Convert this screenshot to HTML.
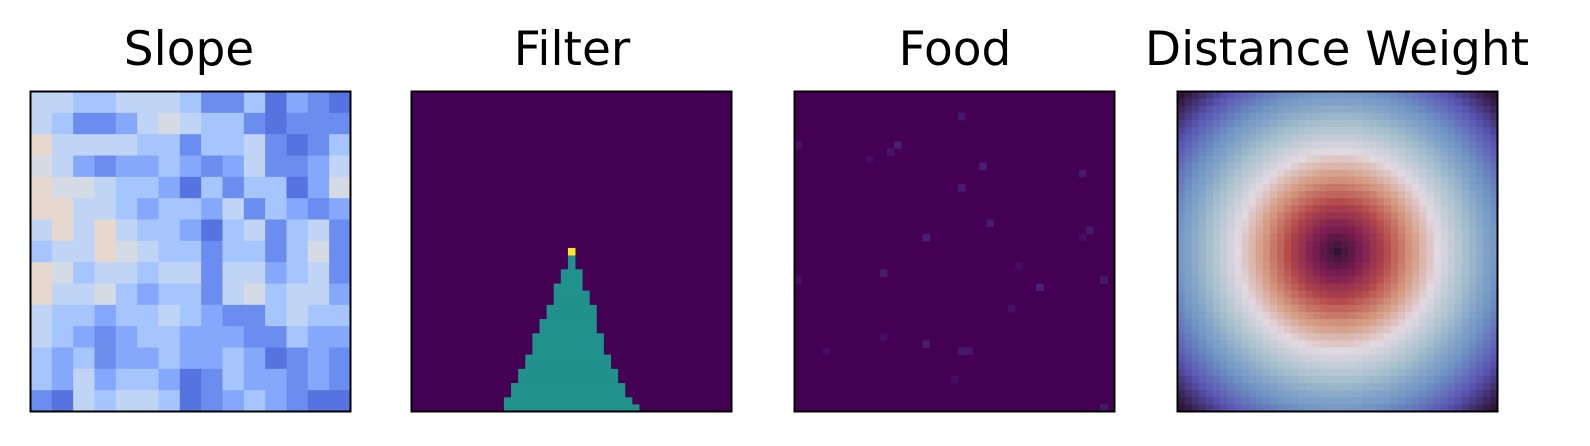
<!DOCTYPE html>
<html><head><meta charset="utf-8">
<style>
html,body{margin:0;padding:0;background:#fff;}
#wrap{position:relative;width:1590px;height:446px;overflow:hidden;}
.title{position:absolute;top:22px;font-family:"DejaVu Sans","Liberation Sans",sans-serif;font-size:47px;color:#000;white-space:nowrap;transform:translateX(-50%);line-height:56px;}
svg{position:absolute;left:0;top:0;}
</style></head>
<body>
<div id="wrap">
<div class="title" style="left:189px">Slope</div>
<div class="title" style="left:572px">Filter</div>
<div class="title" style="left:955px">Food</div>
<div class="title" style="left:1337px">Distance Weight</div>
<svg id="svg" width="1590" height="446"></svg>
</div>
<script>
// ---- data ----
const gridN = 45;
// Slope: coarse 15x15 levels (0 dark blue .. 9 peach)
const slopeLevels = [
[6,6,5,5,6,6,6,5,3,3,5,2,4,3,2],
[6,5,3,3,4,6,7,6,5,5,3,2,3,3,3],
[8,6,6,6,6,5,5,3,5,5,6,3,2,3,5],
[7,6,4,3,4,4,5,4,3,4,6,3,3,4,6],
[8,7,7,6,5,5,4,2,5,3,5,5,2,4,7],
[8,8,6,6,5,4,5,5,4,6,3,5,4,3,4],
[6,8,6,8,6,5,5,4,2,5,6,3,5,6,3],
[5,6,6,8,7,6,5,5,3,5,5,3,5,7,3],
[8,7,5,6,6,5,6,6,3,6,6,4,5,6,3],
[8,6,6,7,5,4,5,5,3,6,7,5,6,6,4],
[6,5,5,4,5,5,6,5,4,3,3,5,6,5,5],
[6,5,4,3,4,5,5,4,4,4,3,3,5,4,4],
[5,4,5,3,4,4,5,4,4,5,4,2,3,4,3],
[5,4,6,4,5,5,4,2,3,5,4,4,3,4,3],
[3,2,6,5,6,6,5,2,3,4,5,4,3,2,2]
];
const slopePalette = ["#3b4cc0","#4961d2","#5673e0","#6b8df0","#85a8fc","#a6c4fe","#c0d4f5","#d5dbe5","#e6d7cf","#f1cdb9"];
// Filter: per row first/last teal column
const filterRows = [22,23,24,25,26,27,28,29,30,31,32,33,34,35,36,37,38,39,40,41,42,43,44];
const filterLeft = [22,22,22,21,21,20,20,20,19,19,18,18,17,17,17,16,16,15,15,14,14,13,13];
const filterRight= [22,22,22,23,23,23,24,24,25,25,25,25,26,26,26,27,27,28,28,29,29,30,31];
const filterPeakRow = 22, filterPeakCol = 22;
// Food: sparse cells
const foodCols = [23,0,14,13,10,26,40,23,27,41,40,18,31,12,0,43,34,30,12,18,4,23,24,22,43];
const foodRows = [3,7,7,8,9,10,11,13,18,19,20,20,24,25,26,26,27,30,34,35,36,36,36,40,44];
const foodVals = [.6,.4,.8,.5,.3,.8,.6,.7,.7,.6,.3,.8,.3,.7,.4,.6,.8,.4,.3,.7,.3,.6,.6,.3,.6];
// Distance weight: colormap position vs radius (cells)
const weightProfile = [.50,.54,.57,.61,.64,.68,.71,.75,.79,.82,.86,.89,.93,.96,1.00,1.03,1.06,1.09,1.12,1.15,1.18,1.21,1.23,1.26,1.29,1.32,1.35,1.38,1.41,1.44,1.47,1.50,1.50];
const twilightStops = ["#e2d9e2","#a6bfcd","#6f93c4","#5a54b2","#2f1436","#7e1e52","#b54b4a","#d49a80","#e2d9e2"];

// ---- rendering ----
const NS="http://www.w3.org/2000/svg";
const svg=document.getElementById('svg');
const panels=[30,411,794,1177], top0=91, size=321;
const cs=(size-1)/gridN;
function hex(c){return [parseInt(c.substr(1,2),16),parseInt(c.substr(3,2),16),parseInt(c.substr(5,2),16)];}
function mix(a,b,t){const A=hex(a),B=hex(b);return 'rgb('+A.map((v,i)=>Math.round(v+(B[i]-v)*t)).join(',')+')';}
function cellX(p,c){return panels[p]+0.5+c*cs;}
function cellY(r){return top0+0.5+r*cs;}
function rect(g,x,y,w,h,fill,name){const e=document.createElementNS(NS,'rect');
 e.setAttribute('x',x);e.setAttribute('y',y);e.setAttribute('width',w+0.4);e.setAttribute('height',h+0.4);e.setAttribute('fill',fill);
 
 
 g.appendChild(e);return e;}
function group(name){const g=document.createElementNS(NS,'g');
 
 
 svg.appendChild(g);return g;}

// slope
let g=group('slope-heatmap');
const blk=gridN/slopeLevels.length;
slopeLevels.forEach((row,r)=>row.forEach((v,c)=>{
 rect(g,cellX(0,c*blk),cellY(r*blk),cs*blk,cs*blk,slopePalette[v],'slope-cell');
}));
// filter
g=group('filter-heatmap');
rect(g,cellX(1,0),cellY(0),cs*gridN,cs*gridN,'#440154','filter-background');
filterRows.forEach((r,i)=>{
 rect(g,cellX(1,filterLeft[i]),cellY(r),cs*(filterRight[i]-filterLeft[i]+1),cs,'#21918c','filter-cell');
});
rect(g,cellX(1,filterPeakCol),cellY(filterPeakRow),cs,cs,'#fde725','filter-peak');
// food
g=group('food-heatmap');
rect(g,cellX(2,0),cellY(0),cs*gridN,cs*gridN,'#440154','food-background');
foodCols.forEach((c,i)=>{
 rect(g,cellX(2,c),cellY(foodRows[i]),cs,cs,mix('#440154','#482878',foodVals[i]),'food-cell');
});
// distance weight
g=group('distance-weight-heatmap');
const ctr=(gridN-1)/2;
function twilight(s){s=((s%1)+1)%1;const f=s*(twilightStops.length-1);const i=Math.min(Math.floor(f),twilightStops.length-2);return mix(twilightStops[i],twilightStops[i+1],f-i);}
for(let r=0;r<gridN;r++)for(let c=0;c<gridN;c++){
 const d=Math.hypot(r-ctr,c-ctr);const i=Math.min(Math.floor(d),weightProfile.length-2);
 const s=weightProfile[i]+(weightProfile[i+1]-weightProfile[i])*(d-i);
 rect(g,cellX(3,c),cellY(r),cs,cs,twilight(s),'distance-cell');
}
// frames
const names=['slope-frame','filter-frame','food-frame','distance-weight-frame'];
panels.forEach((x,p)=>{const e=document.createElementNS(NS,'rect');
 e.setAttribute('x',x+0.5);e.setAttribute('y',top0+0.5);e.setAttribute('width',size-1);e.setAttribute('height',size-1);
 e.setAttribute('fill','none');e.setAttribute('stroke','#000');e.setAttribute('stroke-width','2');
 
 
 svg.appendChild(e);});
</script>
</body></html>
